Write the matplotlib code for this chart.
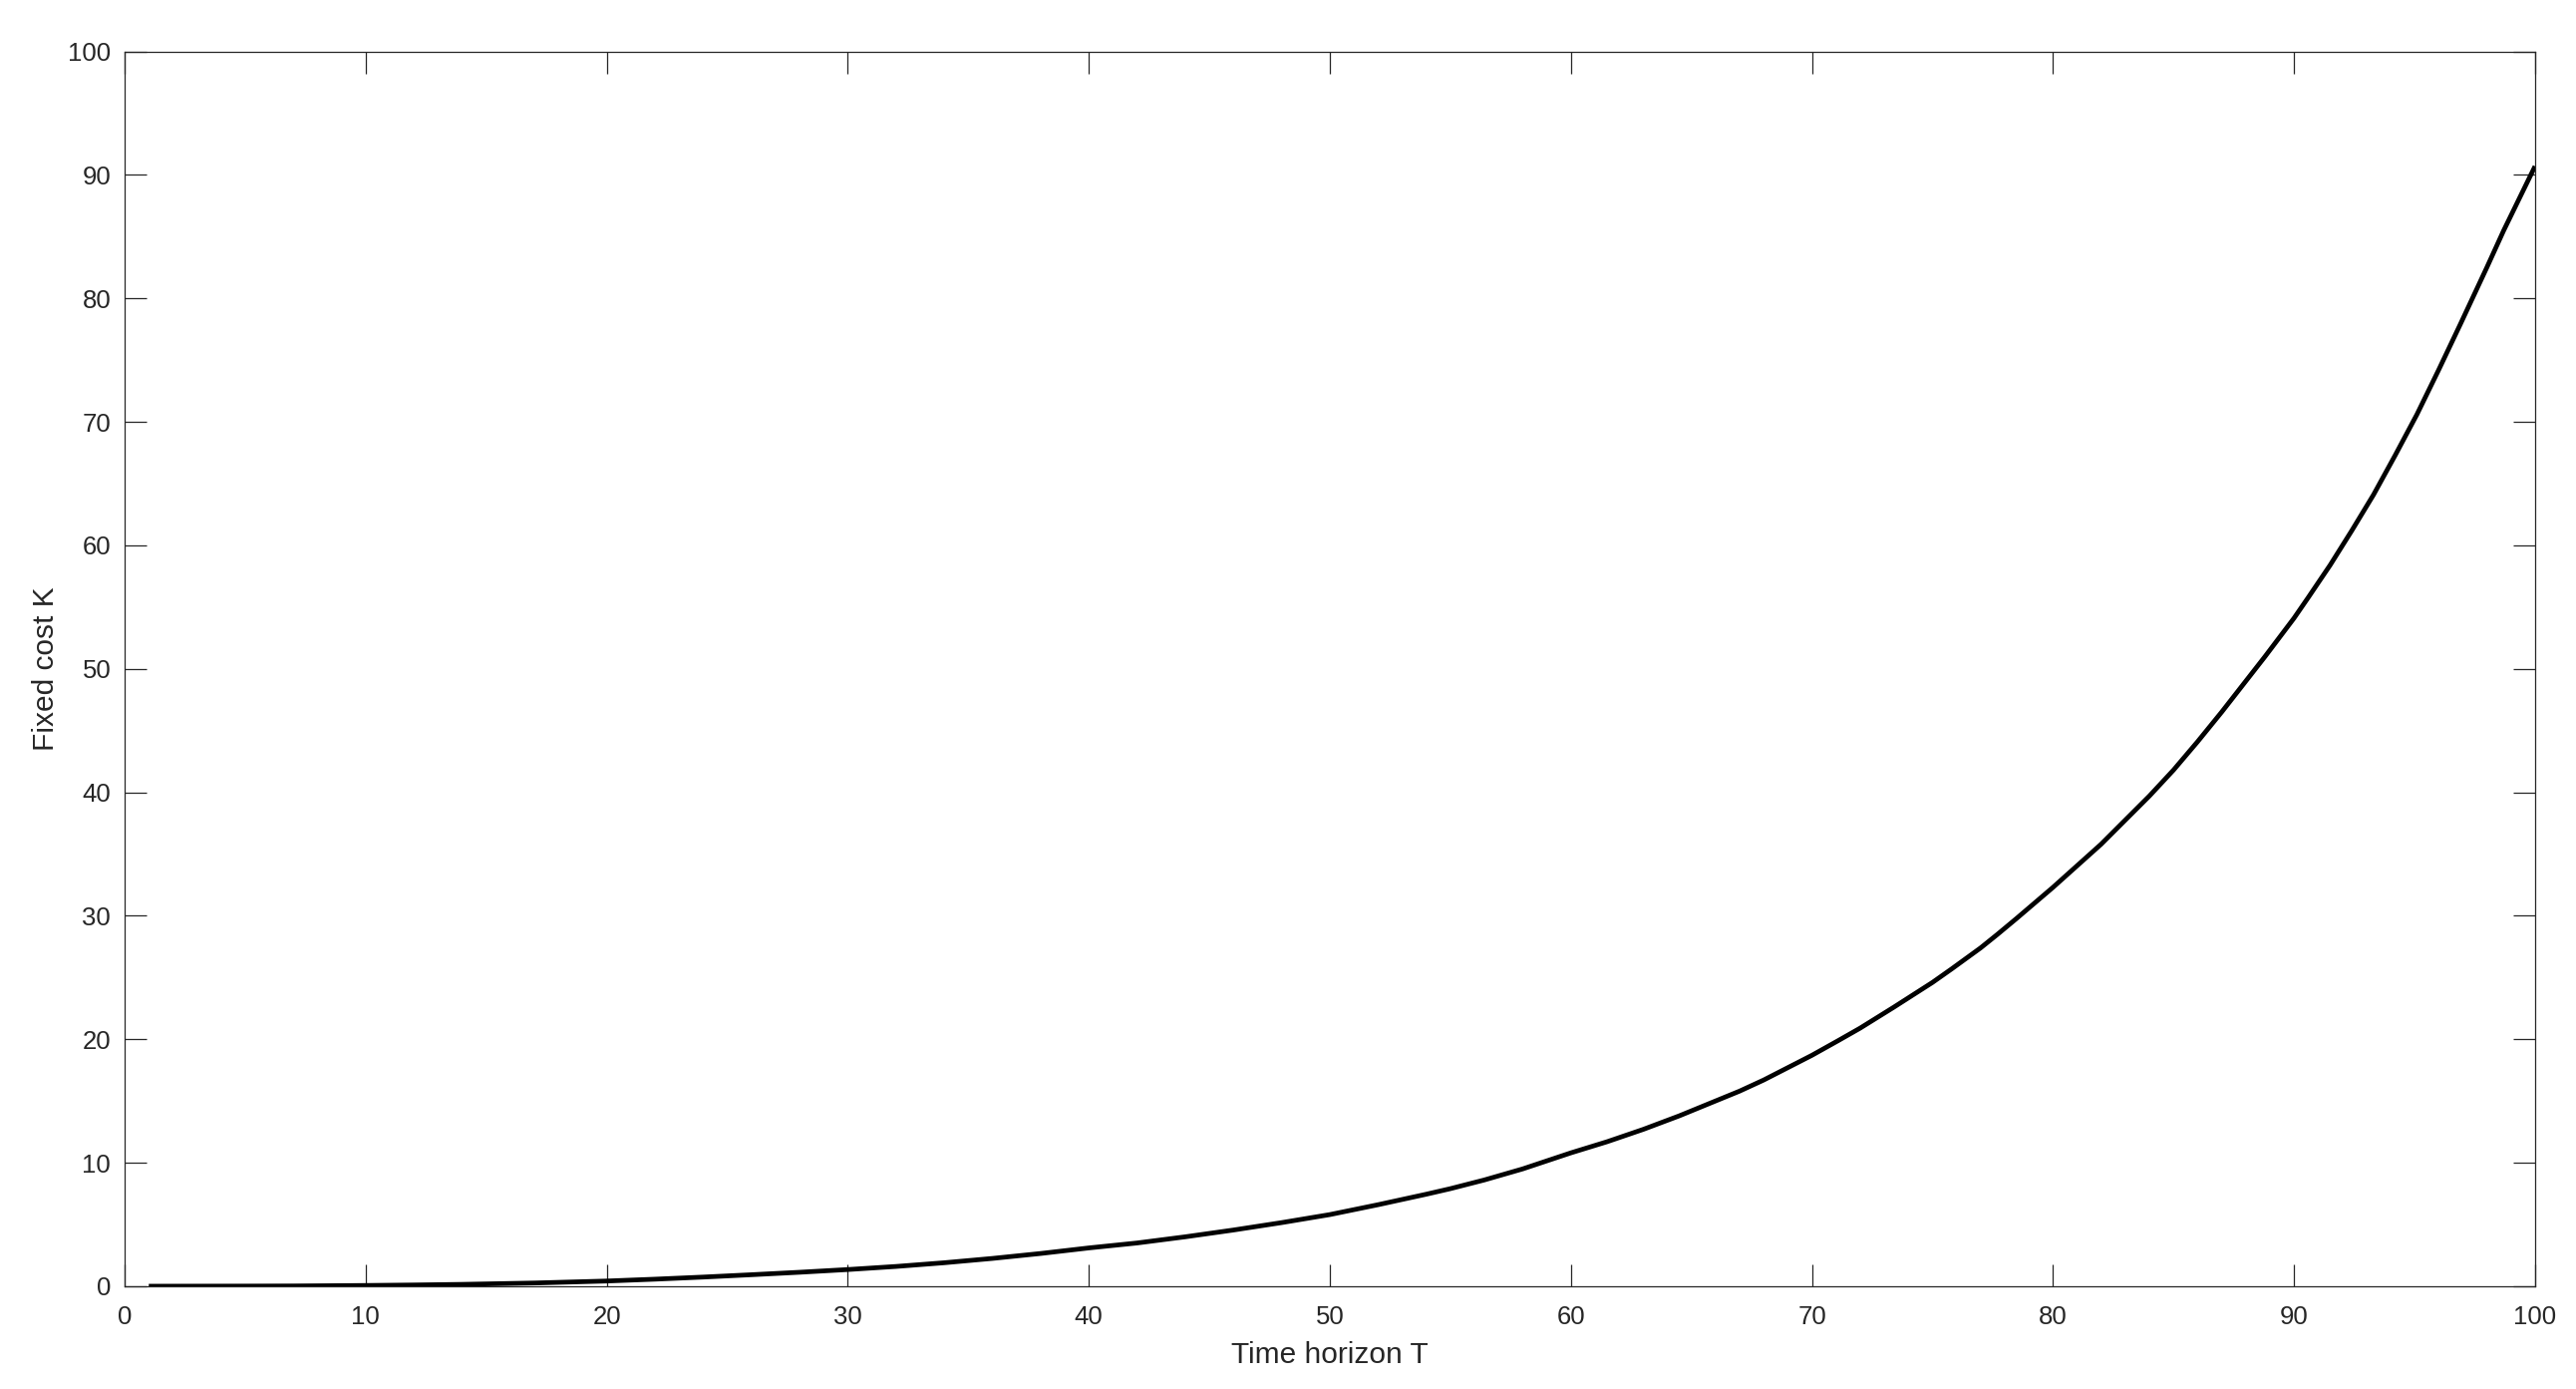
import matplotlib
matplotlib.use('Agg')
import matplotlib.pyplot as plt

# values
horizon = [1, 5, 7, 10, 12, 14, 17, 20, 22, 24, 26, 28, 30, 32, 34, 36, 38,
           40, 42, 44, 46, 48, 50, 52, 54, 55, 56.4, 58, 60, 61.5, 63, 64.5,
           66, 67, 68, 69, 70, 71.1, 72, 73.4, 75, 75.8, 77, 77.7, 78.5, 80,
           82, 84, 85, 86, 87, 88, 88.8, 90, 90.6, 91.5, 92.4, 93.3, 94.2,
           95.1, 96, 96.9, 98, 98.7, 99.4, 100]
fixed_cost = [0.0, 0.01, 0.02, 0.06, 0.1, 0.15, 0.26, 0.42, 0.57, 0.74, 0.93,
              1.13, 1.35, 1.6, 1.9, 2.25, 2.65, 3.1, 3.5, 4.0, 4.55, 5.15,
              5.8, 6.6, 7.45, 7.9, 8.6, 9.5, 10.8, 11.7, 12.7, 13.8, 15.0,
              15.8, 16.7, 17.7, 18.7, 19.9, 20.9, 22.6, 24.6, 25.7, 27.4,
              28.5, 29.8, 32.3, 35.8, 39.7, 41.8, 44.1, 46.5, 49.0, 51.0,
              54.1, 55.8, 58.4, 61.2, 64.1, 67.3, 70.6, 74.2, 77.9, 82.5,
              85.5, 88.3, 90.7]

x_ticks = list(range(0, 101, 10))
y_ticks = list(range(0, 101, 10))

text_col = '#262626'
plt.rcParams['font.family'] = ['Liberation Sans', 'DejaVu Sans']

fig = plt.figure(figsize=(25.84, 13.93), dpi=100)
ax = fig.add_axes([0.0484, 0.074, 0.9357, 0.889])

ax.plot(horizon, fixed_cost, color='black', linewidth=3.4,
        solid_joinstyle='round', solid_capstyle='butt')

ax.set_xlim(0, 100)
ax.set_ylim(0, 100)
ax.set_xticks(x_ticks)
ax.set_yticks(y_ticks)
ax.tick_params(direction='in', length=15.5, width=0.9, colors=text_col,
               labelsize=18.5, top=True, right=True)
ax.tick_params(axis='x', pad=14)
ax.tick_params(axis='y', pad=10)
for s in ax.spines.values():
    s.set_color(text_col)
    s.set_linewidth(0.9)

ax.set_xlabel('Time horizon T', fontsize=21.5, color=text_col, labelpad=8.5)
ax.set_ylabel('Fixed cost K', fontsize=21.5, color=text_col, labelpad=6)

plt.savefig('out.png', dpi=100)
plt.close()
